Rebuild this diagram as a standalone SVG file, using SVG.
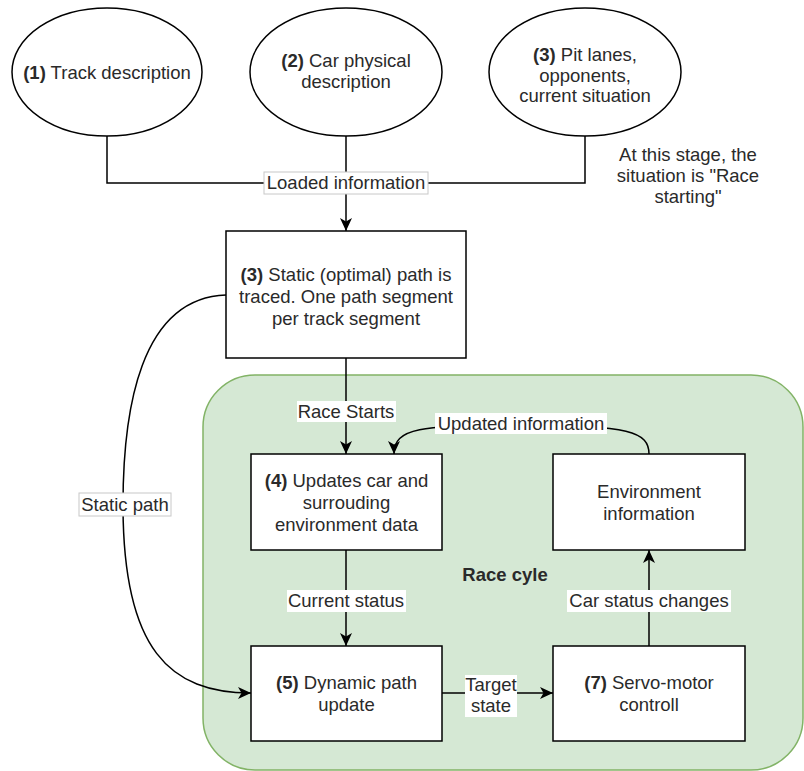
<svg xmlns="http://www.w3.org/2000/svg" width="804" height="771" viewBox="0 0 804 771">
<defs>
<style>
.t{font-family:"Liberation Sans",Arial,sans-serif;font-size:18.5px;fill:#2a2a2a;text-anchor:middle}
.b{font-weight:bold}
.n{fill:#fff;stroke:#000;stroke-width:1.5}
.e{fill:none;stroke:#000;stroke-width:1.5}
.lb{fill:#fff;stroke:none}
.lbb{fill:#fff;stroke:#c8c8c8;stroke-width:1}
</style>
<marker id="arr" viewBox="0 0 13 12" refX="13" refY="6" markerWidth="13" markerHeight="12" orient="auto" markerUnits="userSpaceOnUse">
<path d="M0,0 L13,6 L0,12 L3.5,6 Z" fill="#000"/>
</marker>
</defs>
<rect width="804" height="771" fill="#fff"/>
<g id="race-cycle">
<rect x="203" y="375" width="600" height="395" rx="52" ry="52" fill="#d5e8d4" stroke="#82b366" stroke-width="1.5"/>
<text class="t b" x="505" y="581">Race cyle</text>
</g>
<g id="connectors">
<path class="e" d="M107,136 V183 H585 V136"/>
<path class="e" d="M346,136 V231" marker-end="url(#arr)"/>
<path class="e" d="M346,358 V454" marker-end="url(#arr)"/>
<path class="e" d="M346,550 V646" marker-end="url(#arr)"/>
<path class="e" d="M442,693 H553" marker-end="url(#arr)"/>
<path class="e" d="M649,646 V550" marker-end="url(#arr)"/>
<path class="e" d="M649,454 C649,432 630,425 521,425 C420,425 394,428 394,454" marker-end="url(#arr)"/>
<path class="e" d="M226,295 C140,298 123,410 123,505 C123,650 170,693 251,693" marker-end="url(#arr)"/>
<rect class="lbb" x="264" y="172" width="164" height="22"/>
<text class="t" x="346" y="189">Loaded information</text>
<rect class="lb" x="297" y="401" width="99" height="21"/>
<text class="t" x="346" y="418">Race Starts</text>
<rect class="lb" x="435" y="413" width="172" height="21"/>
<text class="t" x="521" y="430">Updated information</text>
<rect class="lb" x="287" y="590" width="119" height="22"/>
<text class="t" x="346" y="607">Current status</text>
<rect class="lb" x="567" y="590" width="164" height="22"/>
<text class="t" x="649" y="607">Car status changes</text>
<rect class="lb" x="465" y="675" width="52" height="42"/>
<text class="t" x="491" y="691">Target</text>
<text class="t" x="491" y="712">state</text>
<rect class="lbb" x="79" y="493" width="92" height="23"/>
<text class="t" x="125" y="511">Static path</text>
</g>
<g id="n1">
<ellipse class="n" cx="107" cy="72" rx="95" ry="64"/>
<text class="t" x="107" y="79"><tspan class="b">(1)</tspan> Track description</text>
</g>
<g id="n2">
<ellipse class="n" cx="346" cy="72" rx="96" ry="64"/>
<text class="t" x="346" y="67"><tspan class="b">(2)</tspan> Car physical</text>
<text class="t" x="346" y="88">description</text>
</g>
<g id="n3">
<ellipse class="n" cx="585" cy="72" rx="96" ry="64"/>
<text class="t" x="585" y="61"><tspan class="b">(3)</tspan> Pit lanes,</text>
<text class="t" x="585" y="81.5">opponents,</text>
<text class="t" x="585" y="102">current situation</text>
</g>
<g id="note">
<text class="t" x="688" y="161">At this stage, the</text>
<text class="t" x="688" y="182">situation is "Race</text>
<text class="t" x="688" y="203">starting"</text>
</g>
<g id="n-static">
<rect class="n" x="226" y="231" width="240" height="127"/>
<text class="t" x="346" y="281"><tspan class="b">(3)</tspan> Static (optimal) path is</text>
<text class="t" x="346" y="303">traced. One path segment</text>
<text class="t" x="346" y="325">per track segment</text>
</g>
<g id="n4">
<rect class="n" x="251" y="454" width="191" height="96"/>
<text class="t" x="346.5" y="487"><tspan class="b">(4)</tspan> Updates car and</text>
<text class="t" x="346.5" y="509">surrouding</text>
<text class="t" x="346.5" y="531">environment data</text>
</g>
<g id="n-env">
<rect class="n" x="553" y="454" width="192" height="96"/>
<text class="t" x="649" y="498">Environment</text>
<text class="t" x="649" y="520">information</text>
</g>
<g id="n5">
<rect class="n" x="251" y="646" width="191" height="95"/>
<text class="t" x="346.5" y="689"><tspan class="b">(5)</tspan> Dynamic path</text>
<text class="t" x="346.5" y="711">update</text>
</g>
<g id="n7">
<rect class="n" x="553" y="646" width="192" height="95"/>
<text class="t" x="649" y="689"><tspan class="b">(7)</tspan> Servo-motor</text>
<text class="t" x="649" y="711">controll</text>
</g>
</svg>
